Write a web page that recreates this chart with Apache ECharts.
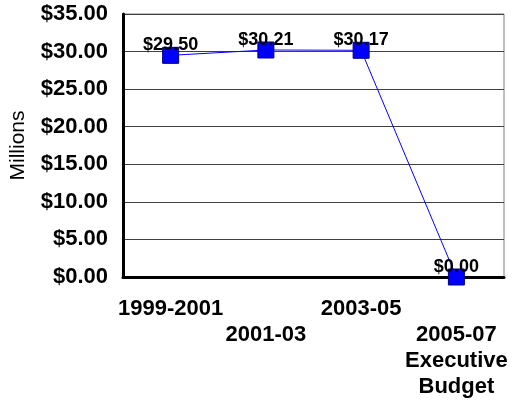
<!DOCTYPE html>
<html>
<head>
<meta charset="utf-8">
<script src="https://cdn.jsdelivr.net/npm/echarts@6/dist/echarts.min.js"></script>
<style>
  html, body { margin: 0; padding: 0; background: #fff; }
  #chart { width: 516px; height: 400px; }
</style>
</head>
<body>
<div id="chart"></div>
<script>
// budget by biennium, in millions
const periods = ["1999-2001", "2001-03", "2003-05", "2005-07\nExecutive\nBudget"];
const amounts = [29.50, 30.21, 30.17, 0.00];

const font = "Arial, 'Liberation Sans', sans-serif";

const chart = echarts.init(document.getElementById("chart"));

chart.setOption({
  animation: false,
  grid: {
    left: 123,
    right: 12,
    top: 14,
    bottom: 123,
    outerBoundsMode: "none",
    show: true,
    borderColor: "#808080",
    borderWidth: 1,
    backgroundColor: "transparent"
  },
  xAxis: {
    type: "category",
    data: periods,
    boundaryGap: true,
    axisLine: { lineStyle: { color: "#000", width: 3 } },
    axisTick: { show: false },
    axisLabel: {
      interval: 0,
      margin: 19,
      color: "#000",
      fontFamily: font,
      fontWeight: "bold",
      fontSize: 22,
      lineHeight: 26,
      // stagger every other label down one row
      formatter: (val, i) => (i % 2 === 1 ? "\n" + val : val)
    }
  },
  yAxis: {
    type: "value",
    min: 0,
    max: 35,
    interval: 5,
    name: "Millions",
    nameLocation: "middle",
    nameGap: 94,
    nameTextStyle: { color: "#000", fontFamily: font, fontSize: 21 },
    axisLine: { show: true, lineStyle: { color: "#000", width: 3 } },
    axisTick: { show: false },
    splitLine: { lineStyle: { color: "#404040", width: 1 } },
    axisLabel: {
      margin: 15,
      color: "#000",
      fontFamily: font,
      fontWeight: "bold",
      fontSize: 22,
      formatter: v => "$" + v.toFixed(2)
    }
  },
  series: [
    {
      type: "line",
      data: amounts,
      symbol: "rect",
      symbolSize: 16,
      clip: false,
      lineStyle: { color: "#0000ff", width: 1 },
      itemStyle: { color: "#0000ff", borderColor: "#000080", borderWidth: 1 },
      label: {
        show: true,
        position: "inside",
        offset: [0, -10],
        color: "#000",
        fontFamily: font,
        fontWeight: "bold",
        fontSize: 18,
        formatter: p => "$" + p.value.toFixed(2)
      }
    }
  ]
});
</script>
</body>
</html>
